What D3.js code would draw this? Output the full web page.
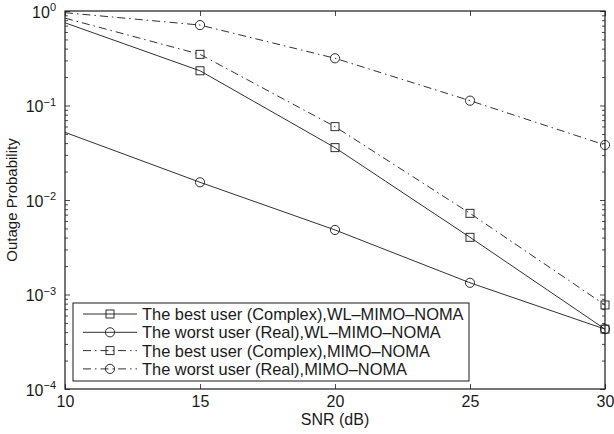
<!DOCTYPE html>
<html>
<head>
<meta charset="utf-8">
<script src="https://cdn.jsdelivr.net/npm/d3@7"></script>
<style>
  body { margin: 0; background: #fff; }
  svg text { font-family: "Liberation Sans", Arial, sans-serif; fill: #1a1a1a; }
</style>
</head>
<body>
<div id="chart"></div>
<script>
// data
const snr = [10, 15, 20, 25, 30];
const markerSnr = [15, 20, 25, 30];
const bestWL = [0.75, 0.233, 0.0358, 0.00403, 0.00043];
const worstWL = [0.052, 0.0154, 0.00482, 0.00133, 0.00043];
const bestMIMO = [0.84, 0.348, 0.0597, 0.00723, 0.000775];
const worstMIMO = [0.96, 0.71, 0.316, 0.1125, 0.0382];
const seriesNames = [
  "The best user (Complex),WL\u2013MIMO\u2013NOMA",
  "The worst user (Real),WL\u2013MIMO\u2013NOMA",
  "The best user (Complex),MIMO\u2013NOMA",
  "The worst user (Real),MIMO\u2013NOMA"
];
const xTicks = [10, 15, 20, 25, 30];
const yTicks = [1e-4, 1e-3, 1e-2, 1e-1, 1];

const series = [
  {name: seriesNames[0], values: bestWL, marker: "square", dash: null},
  {name: seriesNames[1], values: worstWL, marker: "circle", dash: null},
  {name: seriesNames[2], values: bestMIMO, marker: "square", dash: "8,4,1.5,4"},
  {name: seriesNames[3], values: worstMIMO, marker: "circle", dash: "8,4,1.5,4"}
];

const W = 614, H = 434;
const margin = {top: 11, right: 9, bottom: 45, left: 65};
const width = W - margin.left - margin.right,
      height = H - margin.top - margin.bottom;
const ink = "#1a1a1a";
const fs = 16;

const svg = d3.select("#chart").append("svg")
    .attr("width", W).attr("height", H)
  .append("g")
    .attr("transform", `translate(${margin.left},${margin.top})`);

const x = d3.scaleLinear().domain([10, 30]).range([0, width]);
const y = d3.scaleLog().domain([1e-4, 1]).range([height, 0]);

// minor ticks for log axis
const minor = [];
for (let e = -4; e < 0; e++) {
  for (let k = 2; k <= 9; k++) minor.push(k * Math.pow(10, e));
}

const tickStyle = g => {
  g.select(".domain").remove();
  g.selectAll(".tick line").attr("stroke", ink).attr("stroke-width", 0.8);
};

// bottom axis
svg.append("g")
    .attr("transform", `translate(0,${height})`)
    .call(d3.axisBottom(x).tickValues(xTicks).tickSize(-5).tickPadding(7).tickFormat(d3.format("d")))
    .call(tickStyle)
    .selectAll("text").attr("font-size", fs).attr("fill", ink);

// top ticks
svg.append("g")
    .call(d3.axisTop(x).tickValues(xTicks).tickSize(-5).tickFormat(""))
    .call(tickStyle);

// left axis, major
const left = svg.append("g")
    .call(d3.axisLeft(y).tickValues(yTicks).tickSize(-5).tickPadding(9).tickFormat(""))
    .call(tickStyle);
left.selectAll(".tick text").each(function (d) {
  const t = d3.select(this).attr("font-size", fs).attr("dy", "0.4em");
  t.append("tspan").text("10");
  t.append("tspan").attr("dy", "-0.6em").attr("font-size", 11)
    .text(String(Math.round(Math.log10(d))).replace("-", "\u2212"));
});

// left minor
svg.append("g")
    .call(d3.axisLeft(y).tickValues(minor).tickSize(-3).tickFormat(""))
    .call(tickStyle);

// right axis
svg.append("g")
    .attr("transform", `translate(${width},0)`)
    .call(d3.axisRight(y).tickValues(yTicks).tickSize(-5).tickFormat(""))
    .call(tickStyle);
svg.append("g")
    .attr("transform", `translate(${width},0)`)
    .call(d3.axisRight(y).tickValues(minor).tickSize(-3).tickFormat(""))
    .call(tickStyle);

// frame
svg.append("rect")
    .attr("width", width).attr("height", height)
    .attr("fill", "none").attr("stroke", ink).attr("stroke-width", 1.2);

// lines
const line = d3.line().x((d, i) => x(snr[i])).y(d => y(d));

const drawMarker = (g, type, cx, cy) => {
  if (type === "square") {
    g.append("rect").attr("x", cx - 4).attr("y", cy - 4)
      .attr("width", 8).attr("height", 8)
      .attr("fill", "none").attr("stroke", ink).attr("stroke-width", 0.9);
  } else {
    g.append("circle").attr("cx", cx).attr("cy", cy).attr("r", 4.6)
      .attr("fill", "none").attr("stroke", ink).attr("stroke-width", 0.9);
  }
};

series.forEach(s => {
  svg.append("path")
    .datum(s.values)
    .attr("d", line)
    .attr("fill", "none")
    .attr("stroke", ink)
    .attr("stroke-width", 0.9)
    .attr("stroke-dasharray", s.dash);
  const g = svg.append("g");
  s.values.forEach((v, i) => {
    if (markerSnr.includes(snr[i])) drawMarker(g, s.marker, x(snr[i]), y(v));
  });
});

// axis titles
svg.append("text")
    .attr("x", width / 2).attr("y", height + 36)
    .attr("text-anchor", "middle").attr("font-size", fs)
    .text("SNR (dB)");
svg.append("text")
    .attr("transform", `translate(${-48},${height / 2}) rotate(-90)`)
    .attr("text-anchor", "middle").attr("font-size", 15)
    .text("Outage Probability");

// legend
const lg = svg.append("g").attr("transform", `translate(${73 - margin.left},${303 - margin.top})`);
lg.append("rect")
    .attr("width", 396).attr("height", 78)
    .attr("fill", "#fff").attr("stroke", ink).attr("stroke-width", 1);
series.forEach((s, i) => {
  const yy = 11 + i * 18.3;
  lg.append("line")
    .attr("x1", 10).attr("x2", 64).attr("y1", yy).attr("y2", yy)
    .attr("stroke", ink).attr("stroke-width", 0.9)
    .attr("stroke-dasharray", s.dash);
  drawMarker(lg, s.marker, 37, yy);
  lg.append("text")
    .attr("x", 69).attr("y", yy).attr("dy", "0.36em")
    .attr("font-size", 16.4)
    .text(s.name);
});
</script>
</body>
</html>
